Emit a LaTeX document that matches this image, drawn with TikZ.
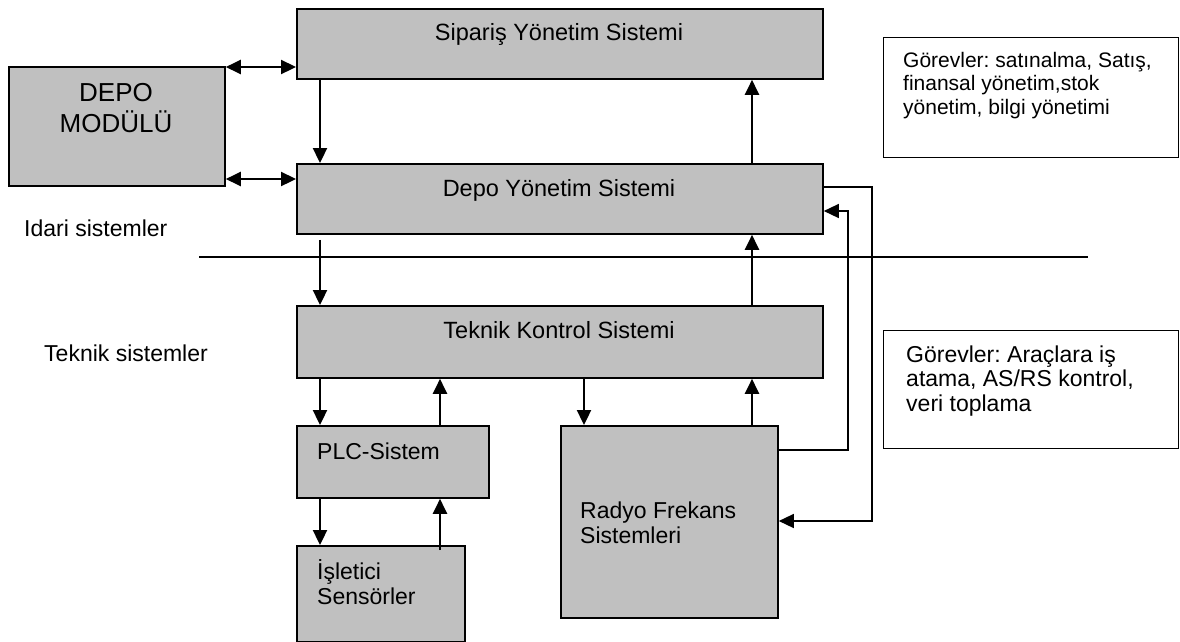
\documentclass[tikz,border=0pt]{standalone}
\usepackage{fontspec}
\setmainfont{Liberation Sans}
\usetikzlibrary{arrows.meta}
\definecolor{boxgray}{HTML}{C0C0C0}
\frenchspacing
\begin{document}
\begin{tikzpicture}[x=1pt,y=-1pt,
  box/.style={draw=black, line width=1.8pt, fill=boxgray, anchor=north west, inner sep=0pt},
  note/.style={draw=black, line width=1.4pt, fill=white, anchor=north west, inner sep=0pt},
  head/.style={-{Triangle[length=15pt,width=14pt]}},
  conn/.style={line width=2.3pt, head},
  both/.style={line width=2.3pt, {Triangle[length=15pt,width=14pt]}-{Triangle[length=15pt,width=14pt]}},
  wire/.style={line width=1.4pt},
  title/.style={font=\fontsize{23.5}{25}\selectfont, inner sep=0pt, anchor=base},
  body/.style={font=\fontsize{23}{24.5}\selectfont, inner sep=0pt, anchor=base west, align=left},
  small/.style={font=\fontsize{21}{23.5}\selectfont, inner sep=0pt, anchor=base west, align=left},
  big/.style={font=\fontsize{26}{31}\selectfont, inner sep=0pt, anchor=base, align=center},
]
\useasboundingbox (0,0) rectangle (1180,641);

% boxes
\node[box, minimum width=526pt, minimum height=70pt] (sip) at (296,8) {};
\node[box, minimum width=216pt, minimum height=119pt] (mod) at (8,66) {};
\node[box, minimum width=526pt, minimum height=70pt] (dys) at (296,163) {};
\node[box, minimum width=526pt, minimum height=72pt] (tek) at (296,305) {};
\node[box, minimum width=192pt, minimum height=72pt] (plc) at (296,425) {};
\node[box, minimum width=168pt, minimum height=96pt] (isl) at (296,545) {};
\node[box, minimum width=217pt, minimum height=192pt] (rad) at (560,425) {};
\node[note, minimum width=295pt, minimum height=120pt] (g1) at (883,37) {};
\node[note, minimum width=295pt, minimum height=118pt] (g2) at (883,330) {};

% box texts (multi-line nodes are placed by the baseline of their last line)
\node[title] (sipT) at (559,40) {Sipariş Yönetim Sistemi};
\node[big] (modT) at (116,132) {DEPO\\MODÜLÜ};
\node[title] (dysT) at (559,196) {Depo Yönetim Sistemi};
\node[title] (tekT) at (559,338) {Teknik Kontrol Sistemi};
\node[body] (plcT) at (317,459) {PLC-Sistem};
\node[body] (islT) at (317,604) {İşletici\\Sensörler};
\node[body] (radT) at (580,543) {Radyo Frekans\\Sistemleri};
\node[small] (g1T) at (903,114) {Görevler: satınalma, Satış,\\finansal yönetim,stok\\yönetim, bilgi yönetimi};
\node[body] (g2T) at (906,411) {Görevler: Araçlara iş\\atama, AS/RS kontrol,\\veri toplama};

% level labels
\node[body] (idari) at (24,236) {Idari sistemler};
\node[body] (teknik) at (44,361) {Teknik sistemler};

% divider between administrative and technical levels
\coordinate (divL) at (199,257);
\coordinate (divR) at (1088,257);
\draw[wire] (divL) -- (divR);

% column and row guides
\coordinate (cA) at (320,0);
\coordinate (cB) at (752,0);
\coordinate (cC) at (440,0);
\coordinate (cD) at (584,0);
\coordinate (rA) at (0,67);
\coordinate (rB) at (0,179);

% links to the module
\draw[both] (mod.east |- rA) -- (sip.west |- rA);
\draw[both] (mod.east |- rB) -- (dys.west |- rB);

% vertical flows
\draw[conn] (sip.south -| cA) -- (dys.north -| cA);
\draw[conn] (dys.north -| cB) -- (sip.south -| cB);
\draw[conn] ([yshift=-5pt]dys.south -| cA) -- (tek.north -| cA);
\draw[conn] (tek.north -| cB) -- (dys.south -| cB);
\draw[conn] (tek.south -| cA) -- (plc.north -| cA);
\draw[conn] (plc.north -| cC) -- (tek.south -| cC);
\draw[conn] (tek.south -| cD) -- (rad.north -| cD);
\draw[conn] (rad.north -| cB) -- (tek.south -| cB);
\draw[conn] (plc.south -| cA) -- (isl.north -| cA);
\draw[conn] ([yshift=-5pt]isl.north -| cC) -- (plc.south -| cC);

% feedback loops on the right
\coordinate (o1) at (872,187);
\coordinate (o2) at (872,521);
\coordinate (i1) at (848,450);
\coordinate (i2) at (848,211);
\draw[wire, head] (dys.east |- o1) -- (o1) -- (o2) -- (rad.east |- o2);
\draw[wire, head] (rad.east |- i1) -- (i1) -- (i2) -- (dys.east |- i2);
\end{tikzpicture}
\end{document}
